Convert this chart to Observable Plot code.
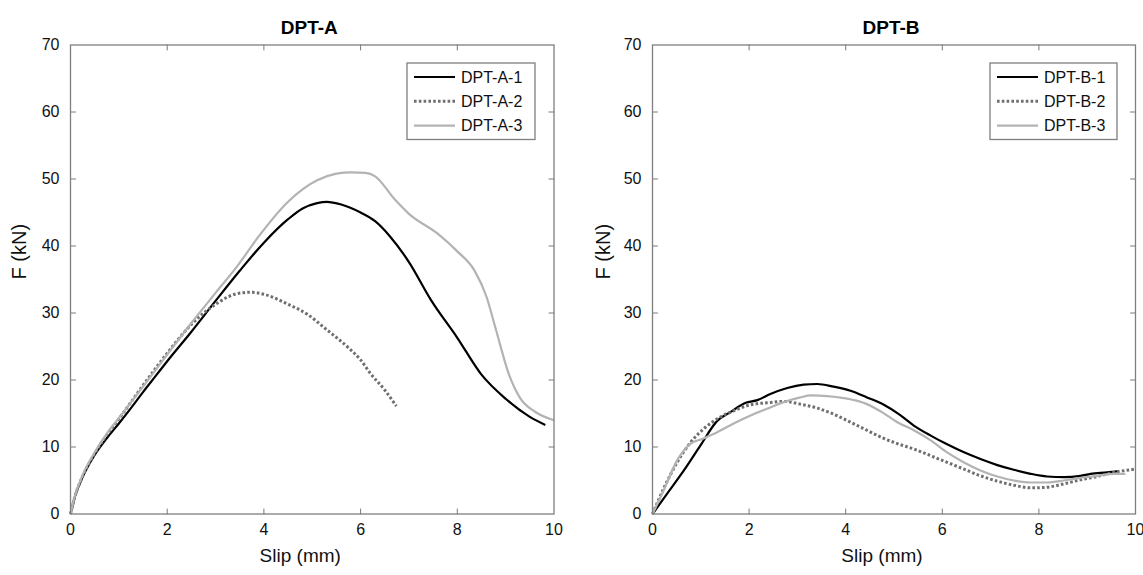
<!DOCTYPE html>
<html>
<head>
<meta charset="utf-8">
<script src="https://cdn.jsdelivr.net/npm/d3@7"></script>
<script src="https://cdn.jsdelivr.net/npm/@observablehq/plot@0.6"></script>
<style>
  html, body { margin: 0; padding: 0; background: #fff; }
  #wrap { position: relative; width: 1143px; height: 575px; overflow: hidden; font-family: "Liberation Sans", Arial, sans-serif; }
  #wrap > svg { position: absolute; top: 0; }
</style>
</head>
<body>
<div id="wrap"></div>
<script>
// ---- data ----
const xTicks = [0, 2, 4, 6, 8, 10];
const yTicks = [0, 10, 20, 30, 40, 50, 60, 70];

const panelTitles = ["DPT-A", "DPT-B"];
const seriesNamesA = ["DPT-A-1", "DPT-A-2", "DPT-A-3"];
const seriesNamesB = ["DPT-B-1", "DPT-B-2", "DPT-B-3"];

const slipA1  = [0, 0.1, 0.25, 0.5, 0.75, 1, 1.25, 1.5, 1.75, 2, 2.5, 3, 3.5, 4, 4.5, 4.8, 5.1, 5.3, 5.6, 6, 6.3, 6.6, 7, 7.45, 8, 8.5, 9, 9.5, 9.82];
const forceA1 = [0, 2.8, 5.5, 8.8, 11.3, 13.5, 15.8, 18.2, 20.5, 22.8, 27.2, 31.8, 36.3, 40.5, 44, 45.6, 46.4, 46.6, 46.2, 45, 43.7, 41.5, 37.6, 32, 26.3, 20.8, 17.2, 14.5, 13.3];

const slipA2  = [0, 0.1, 0.25, 0.5, 0.75, 1, 1.5, 2, 2.5, 3, 3.4, 3.72, 4, 4.5, 4.9, 5.3, 5.75, 6, 6.2, 6.5, 6.74];
const forceA2 = [0, 2.8, 5.6, 9, 11.8, 14.2, 19.2, 24, 28.3, 31.3, 32.8, 33.1, 32.8, 31.3, 29.8, 27.5, 24.8, 23, 21, 18.5, 16.1];

const slipA3  = [0, 0.1, 0.25, 0.5, 0.75, 1, 1.5, 2, 2.5, 3, 3.45, 3.9, 4.5, 5.1, 5.5, 5.8, 6.1, 6.3, 6.7, 7, 7.6, 8, 8.35, 8.6, 8.8, 9.07, 9.3, 9.6, 10];
const forceA3 = [0, 2.9, 5.8, 9.2, 12, 14.3, 19, 23.8, 28.5, 33, 37, 41.5, 46.6, 49.8, 50.8, 51, 50.9, 50.4, 47, 44.8, 41.8, 39.2, 36.4, 32.5, 27.5, 20.8, 17.3, 15.3, 14];

const slipB1  = [0, 0.3, 0.65, 0.99, 1.34, 1.61, 1.93, 2.17, 2.44, 2.79, 3.13, 3.41, 3.75, 4.1, 4.44, 4.79, 5.1, 5.41, 5.76, 6.1, 6.45, 6.79, 7.14, 7.48, 7.83, 8.17, 8.52, 8.86, 9.07, 9.41, 9.65];
const forceB1 = [0, 3, 6.5, 10.2, 13.9, 15.2, 16.6, 17, 17.9, 18.8, 19.3, 19.4, 19, 18.4, 17.4, 16.3, 14.9, 13.2, 11.7, 10.4, 9.2, 8.2, 7.3, 6.6, 6, 5.6, 5.5, 5.7, 6, 6.2, 6.4];

const slipB2  = [0, 0.23, 0.51, 0.79, 1.06, 1.34, 1.68, 2.03, 2.37, 2.72, 3.06, 3.41, 3.75, 4.1, 4.44, 4.75, 5.07, 5.41, 5.76, 6.1, 6.45, 6.79, 7.14, 7.48, 7.83, 8.17, 8.52, 8.86, 9.21, 9.55, 10];
const forceB2 = [0, 3.8, 7.7, 10.7, 12.7, 14.2, 15.4, 16.3, 16.6, 16.8, 16.4, 15.8, 14.9, 13.7, 12.5, 11.4, 10.5, 9.7, 8.7, 7.7, 6.7, 5.7, 4.9, 4.3, 3.9, 4, 4.5, 5.1, 5.6, 6.2, 6.7];

const slipB3  = [0, 0.23, 0.51, 0.79, 1.03, 1.34, 1.68, 2.03, 2.37, 2.72, 3.06, 3.27, 3.62, 3.96, 4.44, 4.75, 5.07, 5.41, 5.76, 6.1, 6.45, 6.79, 7.14, 7.48, 7.83, 8.17, 8.52, 8.86, 9.21, 9.55, 9.79];
const forceB3 = [0, 3.5, 8, 10.5, 11.2, 12.2, 13.5, 14.7, 15.7, 16.7, 17.4, 17.7, 17.6, 17.3, 16.4, 15.2, 13.7, 12.5, 11, 9.2, 7.7, 6.5, 5.6, 5, 4.7, 4.7, 5, 5.4, 5.7, 6, 6.0];

// ---- styles ----
const lineStyles = [
  {stroke: "#000000", strokeWidth: 2.2, strokeDasharray: null},
  {stroke: "#6f6f6f", strokeWidth: 3, strokeDasharray: "2.6,2.2"},
  {stroke: "#b3b3b3", strokeWidth: 2.2, strokeDasharray: null}
];

const FONT = "'Liberation Sans', Arial, sans-serif";
const toRows = (xs, ys) => xs.map((x, i) => ({x, y: ys[i]}));

const tickShape = {draw(context, l) { context.moveTo(0, 0); context.lineTo(0, -l); }};

function panel(title, series, opts) {
  const inX = xTicks.slice(1, -1), inY = yTicks.slice(1, -1);
  const tickCommon = {length: 5, anchor: "start", shape: tickShape, stroke: "#7a7a7a", strokeWidth: 1};
  const marks = [
    Plot.vector(inX, {x: d => d, frameAnchor: "bottom", rotate: 0, ...tickCommon}),
    Plot.vector(inX, {x: d => d, frameAnchor: "top", rotate: 180, ...tickCommon}),
    Plot.vector(inY, {y: d => d, frameAnchor: "left", rotate: 90, ...tickCommon}),
    Plot.vector(inY, {y: d => d, frameAnchor: "right", rotate: -90, ...tickCommon}),
    ...series.map((s, i) => Plot.line(s, {x: "x", y: "y", curve: "monotone-x", strokeLinecap: "butt", strokeLinejoin: "round", ...Object.fromEntries(Object.entries(lineStyles[i]).filter(([k, v]) => v != null))})),
    Plot.frame({stroke: "#7f7f7f", strokeWidth: 1.3}),
    Plot.axisX(xTicks, {tickSize: 0, tickPadding: 10, fontSize: 16, fill: "#111", label: null}),
    Plot.axisY(yTicks, {tickSize: 0, tickPadding: 11, fontSize: 16, fill: "#111", label: null}),
    Plot.text([title], {frameAnchor: "top", dy: -25, dx: -3, fontSize: 19, fontWeight: "bold", fill: "#000"}),
    Plot.text(["Slip (mm)"], {frameAnchor: "bottom", dy: 48, dx: -12, fontSize: 19, fill: "#111"}),
    Plot.text(["F (kN)"], {frameAnchor: "left", dx: opts.ylabelDx, rotate: -90, fontSize: 20, fill: "#111"})
  ];
  return Plot.plot({
    width: opts.width, height: 575,
    marginLeft: opts.ml, marginRight: opts.mr, marginTop: 44.5, marginBottom: 61.5,
    x: {domain: [0, 10]},
    y: {domain: [0, 70]},
    style: {fontFamily: FONT, fontSize: "16px", background: "transparent", overflow: "visible"},
    marks
  });
}

function legend(names, left, top, width) {
  const ns = "http://www.w3.org/2000/svg";
  const svg = document.createElementNS(ns, "svg");
  svg.setAttribute("width", width + 2);
  svg.setAttribute("height", 80);
  svg.style.position = "absolute";
  svg.style.left = (left - 1) + "px";
  svg.style.top = (top - 1) + "px";
  const rect = document.createElementNS(ns, "rect");
  rect.setAttribute("x", 1); rect.setAttribute("y", 1);
  rect.setAttribute("width", width); rect.setAttribute("height", 76.5);
  rect.setAttribute("fill", "#fff"); rect.setAttribute("stroke", "#7f7f7f"); rect.setAttribute("stroke-width", 1.3);
  svg.appendChild(rect);
  names.forEach((name, i) => {
    const cy = 1 + 14 + i * 24.3;
    const ln = document.createElementNS(ns, "line");
    ln.setAttribute("x1", 8); ln.setAttribute("x2", 49);
    ln.setAttribute("y1", cy); ln.setAttribute("y2", cy);
    const st = lineStyles[i];
    ln.setAttribute("stroke", st.stroke); ln.setAttribute("stroke-width", st.strokeWidth);
    if (st.strokeDasharray) ln.setAttribute("stroke-dasharray", st.strokeDasharray);
    svg.appendChild(ln);
    const tx = document.createElementNS(ns, "text");
    tx.setAttribute("x", 55); tx.setAttribute("y", cy);
    tx.setAttribute("dy", "0.36em");
    tx.setAttribute("font-family", FONT); tx.setAttribute("font-size", 16); tx.setAttribute("fill", "#111");
    tx.textContent = name;
    svg.appendChild(tx);
  });
  return svg;
}

const wrap = document.getElementById("wrap");
const pA = panel(panelTitles[0], [toRows(slipA1, forceA1), toRows(slipA2, forceA2), toRows(slipA3, forceA3)], {width: 572, ml: 70, mr: 18.5, ylabelDx: -50.5});
pA.style.left = "0px";
wrap.appendChild(pA);
const pB = panel(panelTitles[1], [toRows(slipB1, forceB1), toRows(slipB2, forceB2), toRows(slipB3, forceB3)], {width: 571, ml: 80, mr: 8, ylabelDx: -49});
pB.style.left = "572px";
wrap.appendChild(pB);
wrap.appendChild(legend(seriesNamesA, 407, 62.5, 128));
wrap.appendChild(legend(seriesNamesB, 990, 62.5, 127));
</script>
</body>
</html>
